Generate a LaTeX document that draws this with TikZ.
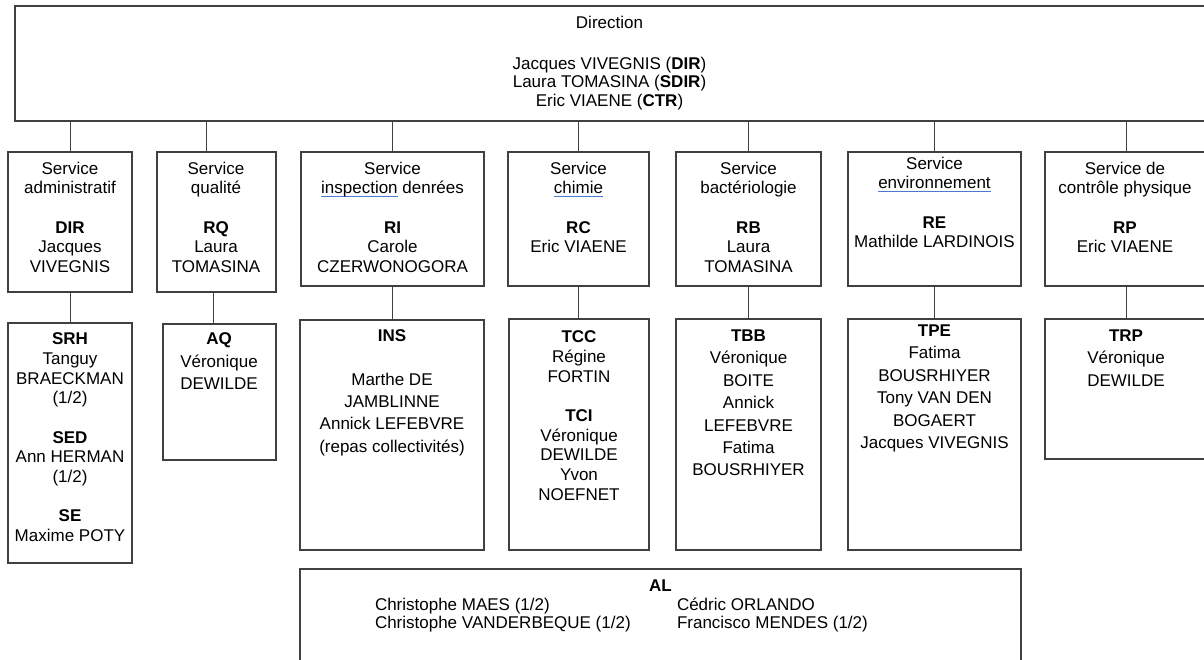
\documentclass[tikz,border=0pt]{standalone}
\usepackage{fontspec}
\setmainfont{Liberation Sans}
\usetikzlibrary{calc}
\definecolor{ln}{HTML}{404040}
\definecolor{ulblue}{HTML}{4A7BD0}
\newsavebox\ulbox
\newcommand\spellul[1]{\sbox\ulbox{#1}\leavevmode\rlap{\textcolor{ulblue}{\rule[-3.5pt]{\wd\ulbox}{1.6pt}}}\usebox\ulbox}
\begin{document}
\begin{tikzpicture}[x=1pt, y=-1pt,
  box/.style={draw=ln, line width=1.2pt, inner sep=0pt, outer sep=0pt, anchor=north west},
  conn/.style={draw=ln, line width=1pt},
  txt/.style={inner sep=0pt, outer sep=0pt, anchor=north, align=center, font=\fontsize{17}{19.7}\selectfont},
  txtw/.style={txt, font=\fontsize{17}{22.4}\selectfont},
  txtd/.style={txt, font=\fontsize{17}{18.5}\selectfont},
  txtl/.style={inner sep=0pt, outer sep=0pt, anchor=north west, align=left, font=\fontsize{17}{18}\selectfont}]
\useasboundingbox (0,0) rectangle (1204,659);
\clip (0,0) rectangle (1204,659);

% ---- boxes
\node[box, minimum width=1195pt, minimum height=115pt] (dir) at (15,6) {};
\node[box, minimum width=124pt, minimum height=140pt] (adm) at (8,152) {};
\node[box, minimum width=119pt, minimum height=140pt] (qua) at (157,152) {};
\node[box, minimum width=183pt, minimum height=134pt] (ins) at (301,152) {};
\node[box, minimum width=141pt, minimum height=134pt] (chi) at (508,152) {};
\node[box, minimum width=145pt, minimum height=134pt] (bac) at (676,152) {};
\node[box, minimum width=173pt, minimum height=134pt] (env) at (848,152) {};
\node[box, minimum width=162pt, minimum height=134pt] (ctl) at (1045,152) {};

\node[box, minimum width=124pt, minimum height=240pt] (srh) at (8,323) {};
\node[box, minimum width=113pt, minimum height=136pt] (aq) at (163,324) {};
\node[box, minimum width=184pt, minimum height=230pt] (insb) at (300,320) {};
\node[box, minimum width=140pt, minimum height=231pt] (tcc) at (509,319) {};
\node[box, minimum width=145pt, minimum height=231pt] (tbb) at (676,319) {};
\node[box, minimum width=173pt, minimum height=231pt] (tpe) at (848,319) {};
\node[box, minimum width=162pt, minimum height=140pt] (trp) at (1045,319) {};
\node[box, minimum width=721pt, minimum height=120pt] (al) at (300,569) {};

% ---- connectors
\foreach \s in {adm,ins,chi,bac,env,ctl}
  \draw[conn] (\s.north) -- (\s.north |- dir.south);
\coordinate (quat) at ($(qua.north)+(-10.5,0)$);
\draw[conn] (quat) -- (quat |- dir.south);
\draw[conn] (adm.south) -- (srh.north);
\coordinate (quab) at ($(qua.south)+(-3.5,0)$);
\draw[conn] (quab) -- (quab |- aq.north);
\draw[conn] (ins.south) -- (ins.south |- insb.north);
\draw[conn] (chi.south) -- (chi.south |- tcc.north);
\draw[conn] (bac.south) -- (bac.south |- tbb.north);
\draw[conn] (env.south) -- (env.south |- tpe.north);
\draw[conn] (ctl.south) -- (ctl.south |- trp.north);

% ---- texts
\node[txtd] (dirt) at (609.5,15.8) {Direction\\[22.5pt]Jacques VIVEGNIS (\textbf{DIR})\\Laura TOMASINA (\textbf{SDIR})\\Eric VIAENE (\textbf{CTR})};

\node[txt] (admt) at (70,161.8) {Service\\administratif\\[19.7pt]\textbf{DIR}\\Jacques\\VIVEGNIS};
\node[txt] (quat2) at (216,161.8) {Service\\qualité\\[19.7pt]\textbf{RQ}\\Laura\\TOMASINA};
\node[txt] (inst) at (392.5,161.8) {Service\\\spellul{inspection} denrées\\[19.7pt]\textbf{RI}\\Carole\\CZERWONOGORA};
\node[txt] (chit) at (578.5,161.8) {Service\\\spellul{chimie}\\[19.7pt]\textbf{RC}\\Eric VIAENE};
\node[txt] (bact) at (748.5,161.8) {Service\\bactériologie\\[19.7pt]\textbf{RB}\\Laura\\TOMASINA};
\node[txt] (envt) at (934.5,156.8) {Service\\\spellul{environnement}\\[19.7pt]\textbf{RE}\\Mathilde LARDINOIS};
\node[txt] (ctlt) at (1125,161.8) {Service de\\contrôle physique\\[19.7pt]\textbf{RP}\\Eric VIAENE};

\node[txt] (srht) at (70,332.8) {\textbf{SRH}\\Tanguy\\BRAECKMAN\\(1/2)\\[19.7pt]\textbf{SED}\\Ann HERMAN\\(1/2)\\[19.7pt]\textbf{SE}\\Maxime POTY};
\node[txtw] (aqt) at (219,332.8) {\textbf{AQ}\\Véronique\\DEWILDE};
\node[txtw] (insbt) at (392,329.8) {\textbf{INS}\\[21pt]Marthe DE\\JAMBLINNE\\Annick LEFEBVRE\\(repas collectivités)};
\node[txt] (tcct) at (579,330.8) {\textbf{TCC}\\Régine\\FORTIN\\[19.7pt]\textbf{TCI}\\Véronique\\DEWILDE\\Yvon\\NOEFNET};
\node[txtw] (tbbt) at (748.5,329.8) {\textbf{TBB}\\Véronique\\BOITE\\Annick\\LEFEBVRE\\Fatima\\BOUSRHIYER};
\node[txtw] (tpet) at (934.5,324.8) {\textbf{TPE}\\Fatima\\BOUSRHIYER\\Tony VAN DEN\\BOGAERT\\Jacques VIVEGNIS};
\node[txtw] (trpt) at (1126,329.8) {\textbf{TRP}\\Véronique\\DEWILDE};

\node[txtd] (alt) at (660.5,579.8) {\textbf{AL}};
\node[txtl] (all) at (375,598) {\strut Christophe MAES (1/2)\\Christophe VANDERBEQUE (1/2)};
\node[txtl] (alr) at (677,598) {\strut Cédric ORLANDO\\Francisco MENDES (1/2)};
\end{tikzpicture}
\end{document}
